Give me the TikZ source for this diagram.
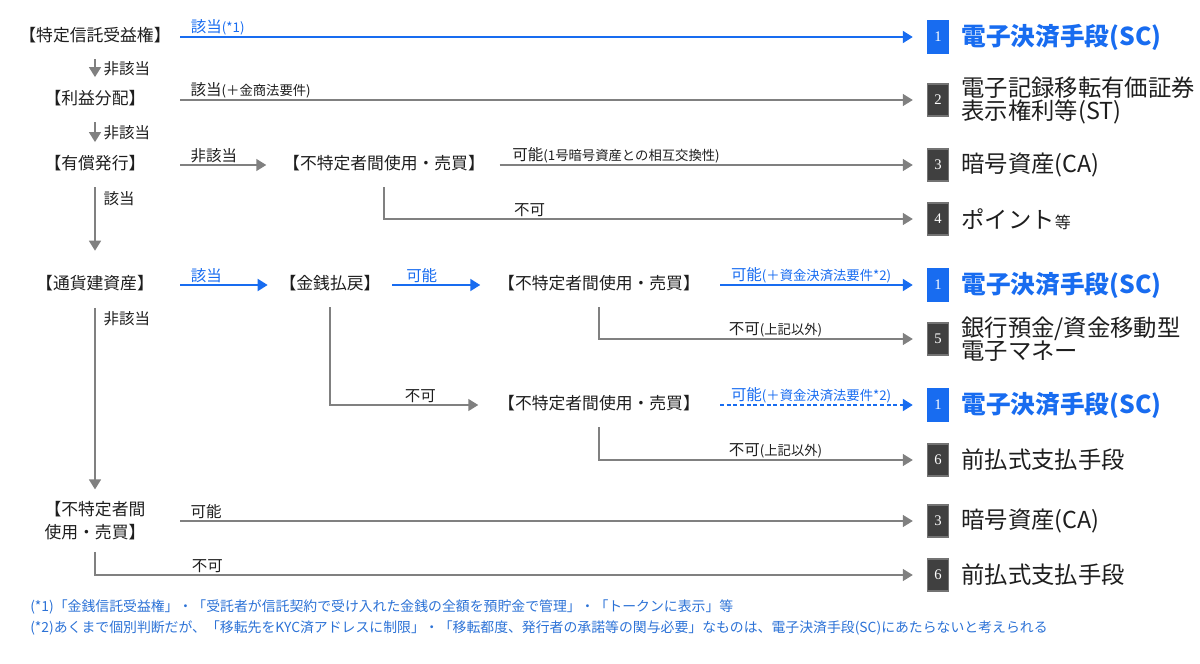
\documentclass[tikz,border=0pt]{standalone}
\usepackage{fontspec}
\setmainfont{Noto Sans CJK JP}
\newfontfamily\numfont{Liberation Serif}
\usetikzlibrary{arrows.meta,positioning}
\definecolor{scblue}{RGB}{24,108,240}
\definecolor{noteblue}{RGB}{44,114,214}
\definecolor{linegray}{RGB}{128,128,128}
\definecolor{boxgray}{RGB}{64,64,64}
\definecolor{txt}{RGB}{30,30,30}
\newcommand\subtxt[1]{{\fontsize{10}{10}\selectfont #1}}
\tikzset{
  cond/.style={font=\fontsize{12.6}{15}\selectfont,text=txt,inner sep=2pt,text height=9.5pt,text depth=2.5pt},
  cond2/.style={font=\fontsize{12.6}{17.25}\selectfont,text=txt,inner sep=2pt,align=center},
  tag/.style={font=\fontsize{11.6}{13}\selectfont,text=txt,inner sep=1pt,anchor=south west},
  vtag/.style={font=\fontsize{11.6}{13}\selectfont,text=txt,inner sep=1pt,anchor=west,xshift=5pt},
  flow/.style={draw=linegray,line width=1.1pt,-{Triangle[length=7.5pt,width=9pt]}},
  hit/.style={draw=scblue,line width=1.4pt,-{Triangle[length=7.5pt,width=9pt]}},
  numbox/.style={fill=boxgray,draw=linegray!90!black,line width=0.8pt,minimum width=16pt,minimum height=24pt,inner sep=0pt,text=white,font=\numfont\fontsize{11}{11}\selectfont},
  scbox/.style={numbox,fill=scblue,draw=scblue},
  res/.style={font=\fontsize{17.5}{17.25}\selectfont,text=txt,inner sep=0pt,align=left},
  scres/.style={res,font=\fontsize{18.5}{18}\selectfont\bfseries,text=scblue},
  note/.style={font=\fontsize{10.4}{12}\selectfont,text=noteblue,inner sep=0pt,anchor=west},
  node distance=9pt
}
\begin{document}
\begin{tikzpicture}[x=0.75pt,y=-0.75pt]
\useasboundingbox (0,0) rectangle (1200,664);
\coordinate (lstart) at (180,0);
% conditions, left column
\node[cond] (tokutei) at (95,37) {【特定信託受益権】};
\node[cond] (rieki) at (95,100) {【利益分配】};
\node[cond] (yusho) at (95,165) {【有償発行】};
\node[cond] (tsuka) at (95,285) {【通貨建資産】};
\node[cond2] (fuk0) at (95,521) {【不特定者間\\使用・売買】};
% conditions, inner
\node[cond] (fuk1) at (384,165) {【不特定者間使用・売買】};
\node[cond] (kinsen) at (330,285) {【金銭払戻】};
\node[cond] (fuk2) at (599,285) {【不特定者間使用・売買】};
\node[cond] (fuk3) at (599,405) {【不特定者間使用・売買】};
% results
\node[scbox] (n1a) at (938,37) {1};
\node[scres,right=of n1a] (t1a) {電子決済手段(SC)};
\node[numbox] (n2) at (938,100) {2};
\node[res,right=of n2] (t2) {電子記録移転有価証券\\表示権利等(ST)};
\node[numbox] (n3a) at (938,165) {3};
\node[res,right=of n3a] (t3a) {暗号資産(CA)};
\node[numbox] (n4) at (938,219) {4};
\node[res,right=of n4] (t4) {ポイント{\fontsize{12}{12}\selectfont 等}};
\node[scbox] (n1b) at (938,285) {1};
\node[scres,right=of n1b] (t1b) {電子決済手段(SC)};
\node[numbox] (n5) at (938,339) {5};
\node[res,right=of n5] (t5) {銀行預金/資金移動型\\電子マネー};
\node[scbox] (n1c) at (938,405) {1};
\node[scres,right=of n1c] (t1c) {電子決済手段(SC)};
\node[numbox] (n6a) at (938,460) {6};
\node[res,right=of n6a] (t6a) {前払式支払手段};
\node[numbox] (n3b) at (938,521) {3};
\node[res,right=of n3b] (t3b) {暗号資産(CA)};
\node[numbox] (n6b) at (938,575) {6};
\node[res,right=of n6b] (t6b) {前払式支払手段};
% left column, downward
\draw[flow,shorten <=8.5pt,shorten >=9pt] (tokutei) -- (rieki) node[vtag,midway] (l1) {非該当};
\draw[flow,shorten <=8.5pt,shorten >=9pt] (rieki) -- (yusho) node[vtag,midway] (l2) {非該当};
\draw[flow,shorten <=8.5pt,shorten >=17.5pt] (yusho) -- (tsuka) node[vtag,pos=0.23] (l3) {該当};
\draw[flow,shorten <=9pt,shorten >=7pt] (tsuka) -- (fuk0) node[vtag,pos=0.11] (l4) {非該当};
% rows 1-4
\draw[hit,shorten >=10.5pt] (tokutei -| lstart) -- (n1a) node[tag,text=scblue,pos=0,xshift=6.5pt] (l5) {該当\subtxt{(*1)}};
\draw[flow,shorten >=10.5pt] (rieki -| lstart) -- (n2) node[tag,pos=0,xshift=6.5pt] (l6) {該当\subtxt{(＋金商法要件)}};
\draw[flow,shorten >=10.5pt] (yusho -| lstart) -- (fuk1) node[tag,pos=0,xshift=6.5pt] (l7) {非該当};
\draw[flow,shorten <=9pt,shorten >=10.5pt] (fuk1) -- (n3a) node[tag,pos=0,xshift=17pt] (l8) {可能\subtxt{(1号暗号資産との相互交換性)}};
\draw[flow,shorten <=8.5pt,shorten >=10.5pt] (fuk1) |- (n4) node[tag,pos=0.618] (l9) {不可};
% rows 5-8
\draw[hit,shorten >=6.75pt] (tsuka -| lstart) -- (kinsen) node[tag,text=scblue,pos=0,xshift=6.5pt] (l10) {該当};
\draw[hit,shorten <=6.75pt,shorten >=11.25pt] (kinsen) -- (fuk2) node[tag,text=scblue,pos=0,xshift=15.5pt] (l11) {可能};
\draw[hit,shorten <=13pt,shorten >=10.5pt] (fuk2) -- (n1b) node[tag,text=scblue,pos=0,xshift=19.5pt] (l12) {可能\subtxt{(＋資金決済法要件*2)}};
\draw[flow,shorten <=8.5pt,shorten >=10.5pt] (fuk2) |- (n5) node[tag,pos=0.695] (l13) {不可\subtxt{(上記以外)}};
\draw[flow,shorten <=8.5pt,shorten >=12.75pt] (kinsen) |- (fuk3) node[tag,pos=0.72] (l14) {不可};
\draw[hit,dash pattern=on 3pt off 2pt,shorten <=13pt,shorten >=10.5pt] (fuk3) -- (n1c) node[tag,text=scblue,pos=0,xshift=19.5pt] (l15) {可能\subtxt{(＋資金決済法要件*2)}};
\draw[flow,shorten <=8.5pt,shorten >=10.5pt] (fuk3) |- (n6a) node[tag,pos=0.695] (l16) {不可\subtxt{(上記以外)}};
% rows 9-10
\draw[flow,shorten >=10.5pt] (fuk0 -| lstart) -- (n3b) node[tag,pos=0,xshift=6.5pt] (l17) {可能};
\draw[flow,shorten <=6.5pt,shorten >=10.5pt] (fuk0) |- (n6b) node[tag,pos=0.557] (l18) {不可};
% notes
\node[note] (note1) at (30,607) {(*1)「金銭信託受益権」・「受託者が信託契約で受け入れた金銭の全額を預貯金で管理」・「トークンに表示」等};
\node[note] (note2) at (30,628) {(*2)あくまで個別判断だが、「移転先をKYC済アドレスに制限」・「移転都度、発行者の承諾等の関与必要」なものは、電子決済手段(SC)にあたらないと考えられる};
\end{tikzpicture}
\end{document}
